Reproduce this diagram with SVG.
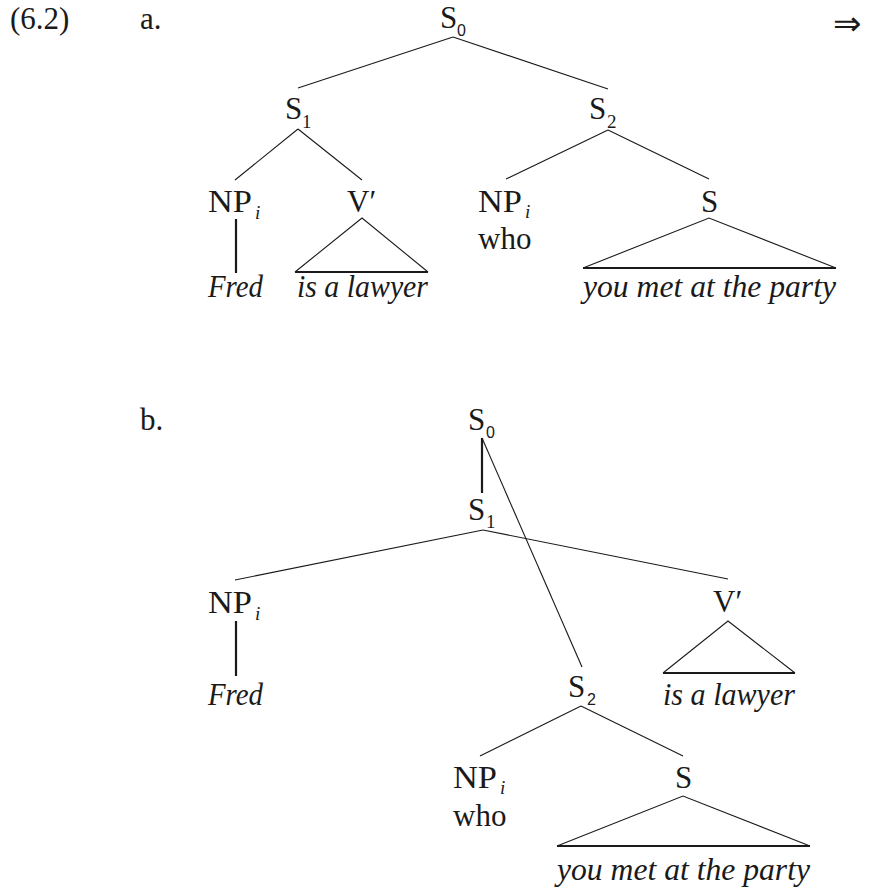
<svg xmlns="http://www.w3.org/2000/svg" width="872" height="892" viewBox="0 0 872 892">
<style>
.t{font-family:"Liberation Serif","Times New Roman",serif;font-size:31px;fill:#1a1a1a}
.it{font-family:"Liberation Serif","Times New Roman",serif;font-size:31px;font-style:italic;fill:#1a1a1a}
.sub{font-family:"Liberation Serif","Times New Roman",serif;font-size:19px;fill:#1a1a1a}
.subs{font-family:"Liberation Sans",Arial,sans-serif;font-size:16px;fill:#1a1a1a}
.subi{font-family:"Liberation Serif","Times New Roman",serif;font-size:19px;font-style:italic;fill:#1a1a1a}
.arr{font-family:"DejaVu Sans",sans-serif;font-size:34px;fill:#1a1a1a}
.e{stroke:#1a1a1a;stroke-width:1.1;fill:none}
.b{stroke:#1a1a1a;stroke-width:2.2;fill:none}
</style>
<rect width="872" height="892" fill="#fff"/>
<g id="labels">
<text class="t" x="10" y="29">(6.2)</text>
<text class="t" x="140" y="29">a.</text>
<text class="arr" x="833" y="35">⇒</text>
<text class="t" x="140" y="430">b.</text>
</g>
<g id="connectors">
<line class="e" x1="453" y1="37" x2="298" y2="88"/>
<line class="e" x1="453" y1="37" x2="608" y2="89"/>
<line class="e" x1="298" y1="129" x2="235" y2="180"/>
<line class="e" x1="298" y1="129" x2="362" y2="180"/>
<line class="b" x1="236" y1="219" x2="236" y2="273"/>
<polyline class="e" points="295,272 362,218 428,272"/>
<line class="b" x1="295" y1="272" x2="428" y2="272"/>
<line class="e" x1="608" y1="130" x2="506" y2="179"/>
<line class="e" x1="608" y1="130" x2="709" y2="179"/>
<polyline class="e" points="583,268 709,218 836,268"/>
<line class="b" x1="583" y1="268" x2="836" y2="268"/>
<line class="b" x1="482" y1="438" x2="482" y2="493"/>
<line class="e" x1="482" y1="438" x2="582" y2="667"/>
<line class="e" x1="483" y1="530" x2="235" y2="580"/>
<line class="e" x1="483" y1="530" x2="728" y2="579"/>
<line class="b" x1="236" y1="621" x2="236" y2="676"/>
<polyline class="e" points="663,673 728,621 795,673"/>
<line class="b" x1="663" y1="673" x2="795" y2="673"/>
<line class="e" x1="581" y1="706" x2="480" y2="756"/>
<line class="e" x1="581" y1="706" x2="683" y2="756"/>
<polyline class="e" points="557,846 683,796 810,846"/>
<line class="b" x1="557" y1="846" x2="810" y2="846"/>
</g>
<g id="a-S0"><text class="t" x="440" y="28">S</text><text class="subs" x="457" y="36">0</text></g>
<g id="a-S1"><text class="t" x="285" y="119">S</text><text class="sub" x="302" y="128">1</text></g>
<g id="a-S2"><text class="t" x="589" y="119">S</text><text class="sub" x="607" y="128">2</text></g>
<g id="a-NP1"><text class="t" x="208" y="212" textLength="44" lengthAdjust="spacingAndGlyphs">NP</text><text class="subi" x="255" y="219">i</text></g>
<g id="a-V"><text class="t" x="347" y="212">V′</text></g>
<g id="a-NP2"><text class="t" x="478" y="212" textLength="44" lengthAdjust="spacingAndGlyphs">NP</text><text class="subi" x="525" y="218">i</text><text class="t" x="478" y="249">who</text></g>
<g id="a-S"><text class="t" x="701" y="212">S</text></g>
<g id="a-fred"><text class="it" x="208" y="297" textLength="55" lengthAdjust="spacingAndGlyphs">Fred</text></g>
<g id="a-lawyer"><text class="it" x="297" y="297" textLength="131" lengthAdjust="spacingAndGlyphs">is a lawyer</text></g>
<g id="a-party"><text class="it" x="583" y="297" textLength="253" lengthAdjust="spacingAndGlyphs">you met at the party</text></g>
<g id="b-S0"><text class="t" x="468" y="430">S</text><text class="subs" x="486" y="438">0</text></g>
<g id="b-S1"><text class="t" x="468" y="520">S</text><text class="sub" x="486" y="528">1</text></g>
<g id="b-NP1"><text class="t" x="208" y="613" textLength="44" lengthAdjust="spacingAndGlyphs">NP</text><text class="subi" x="255" y="620">i</text></g>
<g id="b-fred"><text class="it" x="208" y="705" textLength="55" lengthAdjust="spacingAndGlyphs">Fred</text></g>
<g id="b-V"><text class="t" x="713" y="612">V′</text></g>
<g id="b-lawyer"><text class="it" x="663" y="705" textLength="132" lengthAdjust="spacingAndGlyphs">is a lawyer</text></g>
<g id="b-S2"><text class="t" x="568" y="697">S</text><text class="subs" x="587" y="705">2</text></g>
<g id="b-NP2"><text class="t" x="453" y="788" textLength="44" lengthAdjust="spacingAndGlyphs">NP</text><text class="subi" x="500" y="794">i</text><text class="t" x="453" y="826">who</text></g>
<g id="b-S"><text class="t" x="675" y="788">S</text></g>
<g id="b-party"><text class="it" x="557" y="880" textLength="253" lengthAdjust="spacingAndGlyphs">you met at the party</text></g>
</svg>
